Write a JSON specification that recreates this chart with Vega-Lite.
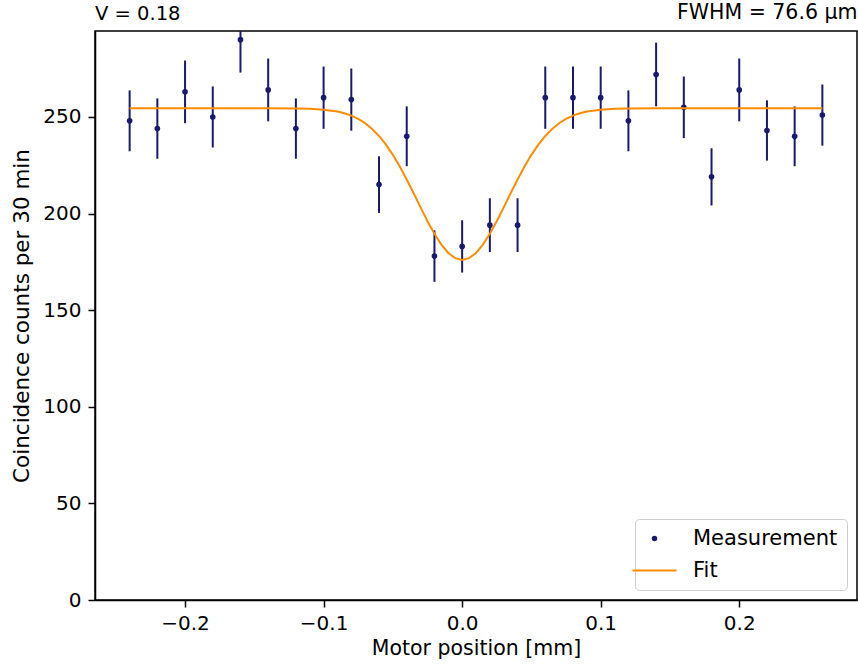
{
  "$schema": "https://vega.github.io/schema/vega-lite/v6.json",
  "width": 762,
  "height": 569,
  "autosize": {"type": "none"},
  "padding": {"left": 95, "top": 31, "right": 1, "bottom": 68},
  "title": {"text": "V = 0.18", "anchor": "start", "frame": "group", "offset": -22, "fontSize": 19.5, "fontWeight": "normal", "color": "black"},
  "config": {
    "font": "DejaVu Sans",
    "view": {"stroke": "black", "strokeWidth": 1.5},
    "axis": {
      "labelFontSize": 20, "titleFontSize": 20.5, "titleFontWeight": "normal",
      "labelColor": "black", "titleColor": "black",
      "domainColor": "black", "domainWidth": 1.5,
      "tickColor": "black", "tickWidth": 1.5, "tickSize": 7,
      "labelPadding": 6, "grid": false
    },
    "legend": {
      "title": null, "orient": "bottom-right", "offset": 10,
      "padding": 9, "strokeColor": "#cccccc", "fillColor": "white", "cornerRadius": 4,
      "labelFontSize": 21, "labelColor": "black", "labelOffset": 28, "rowPadding": 10,
      "symbolSize": 1936, "symbolStrokeWidth": 2
    }
  },
  "datasets": {
    "meas": [
      {"x": -0.24, "y": 248, "lo": 232.25, "hi": 263.75, "series": "Measurement"},
      {"x": -0.22, "y": 244, "lo": 228.38, "hi": 259.62, "series": "Measurement"},
      {"x": -0.20, "y": 263, "lo": 246.78, "hi": 279.22, "series": "Measurement"},
      {"x": -0.18, "y": 250, "lo": 234.19, "hi": 265.81, "series": "Measurement"},
      {"x": -0.16, "y": 290, "lo": 272.97, "hi": 307.03, "series": "Measurement"},
      {"x": -0.14, "y": 264, "lo": 247.75, "hi": 280.25, "series": "Measurement"},
      {"x": -0.12, "y": 244, "lo": 228.38, "hi": 259.62, "series": "Measurement"},
      {"x": -0.10, "y": 260, "lo": 243.88, "hi": 276.12, "series": "Measurement"},
      {"x": -0.08, "y": 259, "lo": 242.91, "hi": 275.09, "series": "Measurement"},
      {"x": -0.06, "y": 215, "lo": 200.34, "hi": 229.66, "series": "Measurement"},
      {"x": -0.04, "y": 240, "lo": 224.51, "hi": 255.49, "series": "Measurement"},
      {"x": -0.02, "y": 178, "lo": 164.66, "hi": 191.34, "series": "Measurement"},
      {"x": 0.00, "y": 183, "lo": 169.47, "hi": 196.53, "series": "Measurement"},
      {"x": 0.02, "y": 194, "lo": 180.07, "hi": 207.93, "series": "Measurement"},
      {"x": 0.04, "y": 194, "lo": 180.07, "hi": 207.93, "series": "Measurement"},
      {"x": 0.06, "y": 260, "lo": 243.88, "hi": 276.12, "series": "Measurement"},
      {"x": 0.08, "y": 260, "lo": 243.88, "hi": 276.12, "series": "Measurement"},
      {"x": 0.10, "y": 260, "lo": 243.88, "hi": 276.12, "series": "Measurement"},
      {"x": 0.12, "y": 248, "lo": 232.25, "hi": 263.75, "series": "Measurement"},
      {"x": 0.14, "y": 272, "lo": 255.51, "hi": 288.49, "series": "Measurement"},
      {"x": 0.16, "y": 255, "lo": 239.03, "hi": 270.97, "series": "Measurement"},
      {"x": 0.18, "y": 219, "lo": 204.20, "hi": 233.80, "series": "Measurement"},
      {"x": 0.20, "y": 264, "lo": 247.75, "hi": 280.25, "series": "Measurement"},
      {"x": 0.22, "y": 243, "lo": 227.41, "hi": 258.59, "series": "Measurement"},
      {"x": 0.24, "y": 240, "lo": 224.51, "hi": 255.49, "series": "Measurement"},
      {"x": 0.26, "y": 251, "lo": 235.16, "hi": 266.84, "series": "Measurement"}
    ],
    "fit": [
      {"x": -0.24, "y": 254.5, "series": "Fit"},
      {"x": -0.14, "y": 254.5, "series": "Fit"},
      {"x": -0.12, "y": 254.41, "series": "Fit"},
      {"x": -0.11, "y": 254.24, "series": "Fit"},
      {"x": -0.10, "y": 253.80, "series": "Fit"},
      {"x": -0.09, "y": 252.79, "series": "Fit"},
      {"x": -0.085, "y": 251.92, "series": "Fit"},
      {"x": -0.08, "y": 250.68, "series": "Fit"},
      {"x": -0.075, "y": 249.00, "series": "Fit"},
      {"x": -0.07, "y": 246.75, "series": "Fit"},
      {"x": -0.065, "y": 243.84, "series": "Fit"},
      {"x": -0.06, "y": 240.18, "series": "Fit"},
      {"x": -0.055, "y": 235.70, "series": "Fit"},
      {"x": -0.05, "y": 230.41, "series": "Fit"},
      {"x": -0.045, "y": 224.35, "series": "Fit"},
      {"x": -0.04, "y": 217.64, "series": "Fit"},
      {"x": -0.035, "y": 210.49, "series": "Fit"},
      {"x": -0.03, "y": 203.19, "series": "Fit"},
      {"x": -0.025, "y": 196.07, "series": "Fit"},
      {"x": -0.02, "y": 189.52, "series": "Fit"},
      {"x": -0.015, "y": 183.92, "series": "Fit"},
      {"x": -0.01, "y": 179.62, "series": "Fit"},
      {"x": -0.005, "y": 176.92, "series": "Fit"},
      {"x": 0.0, "y": 176.0, "series": "Fit"},
      {"x": 0.005, "y": 176.92, "series": "Fit"},
      {"x": 0.01, "y": 179.62, "series": "Fit"},
      {"x": 0.015, "y": 183.92, "series": "Fit"},
      {"x": 0.02, "y": 189.52, "series": "Fit"},
      {"x": 0.025, "y": 196.07, "series": "Fit"},
      {"x": 0.03, "y": 203.19, "series": "Fit"},
      {"x": 0.035, "y": 210.49, "series": "Fit"},
      {"x": 0.04, "y": 217.64, "series": "Fit"},
      {"x": 0.045, "y": 224.35, "series": "Fit"},
      {"x": 0.05, "y": 230.41, "series": "Fit"},
      {"x": 0.055, "y": 235.70, "series": "Fit"},
      {"x": 0.06, "y": 240.18, "series": "Fit"},
      {"x": 0.065, "y": 243.84, "series": "Fit"},
      {"x": 0.07, "y": 246.75, "series": "Fit"},
      {"x": 0.075, "y": 249.00, "series": "Fit"},
      {"x": 0.08, "y": 250.68, "series": "Fit"},
      {"x": 0.085, "y": 251.92, "series": "Fit"},
      {"x": 0.09, "y": 252.79, "series": "Fit"},
      {"x": 0.10, "y": 253.80, "series": "Fit"},
      {"x": 0.11, "y": 254.24, "series": "Fit"},
      {"x": 0.12, "y": 254.41, "series": "Fit"},
      {"x": 0.14, "y": 254.5, "series": "Fit"},
      {"x": 0.26, "y": 254.5, "series": "Fit"}
    ]
  },
  "resolve": {"axis": {"x": "independent"}},
  "layer": [
    {
      "data": {"name": "meas"},
      "mark": {"type": "rule", "color": "#191970", "strokeWidth": 2, "clip": true},
      "encoding": {
        "x": {"field": "x", "type": "quantitative",
              "scale": {"domain": [-0.265, 0.285], "nice": false, "zero": false},
              "axis": {"orient": "bottom", "values": [-0.2, -0.1, 0, 0.1, 0.2],
                       "labelExpr": "replace(format(datum.value, '.1f'), '-', '\u2212')",
                       "title": "Motor position [mm]", "titlePadding": 5}},
        "y": {"field": "lo", "type": "quantitative",
              "scale": {"domain": [0, 294.5], "nice": false},
              "axis": {"values": [0, 50, 100, 150, 200, 250], "title": "Coincidence counts per 30 min",
                       "titleFontSize": 21.5, "titlePadding": 9, "labelPadding": 7}},
        "y2": {"field": "hi"}
      }
    },
    {
      "data": {"name": "meas"},
      "mark": {"type": "point", "filled": true, "opacity": 1, "size": 32, "clip": true},
      "encoding": {
        "x": {"field": "x", "type": "quantitative", "axis": null},
        "y": {"field": "y", "type": "quantitative"},
        "color": {"field": "series", "type": "nominal",
                  "scale": {"domain": ["Measurement", "Fit"], "range": ["#191970", "#ff8c00"]},
                  "legend": {
                    "encode": {
                      "symbols": {"update": {
                        "shape": {"signal": "datum.label === 'Fit' ? 'stroke' : 'circle'"},
                        "size": {"signal": "datum.label === 'Fit' ? 1936 : 30"},
                        "fill": {"signal": "datum.label === 'Fit' ? 'transparent' : '#191970'"},
                        "stroke": {"signal": "datum.label === 'Fit' ? '#ff8c00' : '#191970'"},
                        "strokeWidth": {"signal": "datum.label === 'Fit' ? 2 : 0"}
                      }}
                    }
                  }}
      }
    },
    {
      "data": {"name": "fit"},
      "mark": {"type": "line", "strokeWidth": 2, "clip": true},
      "encoding": {
        "x": {"field": "x", "type": "quantitative",
              "axis": {"orient": "top", "labels": false, "ticks": false, "domain": false,
                       "title": "FWHM = 76.6 \u00b5m", "titleFontSize": 20.5, "titleAnchor": "end", "titlePadding": 9}},
        "y": {"field": "y", "type": "quantitative"},
        "color": {"field": "series", "type": "nominal",
                  "legend": {
                    "encode": {
                      "symbols": {"update": {
                        "shape": {"signal": "datum.label === 'Fit' ? 'stroke' : 'circle'"},
                        "size": {"signal": "datum.label === 'Fit' ? 1936 : 30"},
                        "fill": {"signal": "datum.label === 'Fit' ? 'transparent' : '#191970'"},
                        "stroke": {"signal": "datum.label === 'Fit' ? '#ff8c00' : '#191970'"},
                        "strokeWidth": {"signal": "datum.label === 'Fit' ? 2 : 0"}
                      }}
                    }
                  }}
      }
    }
  ]
}
